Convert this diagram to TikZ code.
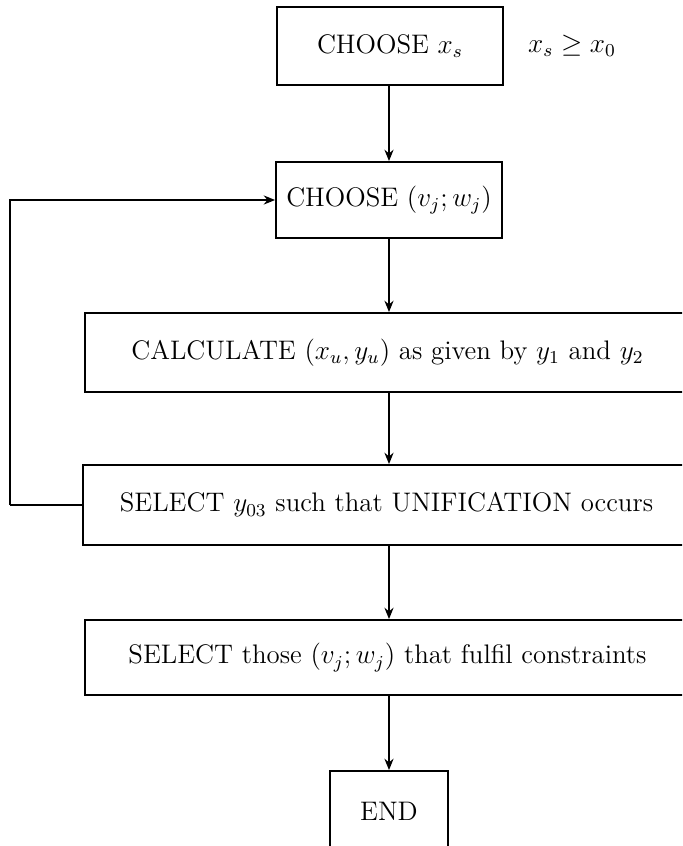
\documentclass[tikz,border=0pt]{standalone}
\usetikzlibrary{arrows.meta}
\begin{document}
\begin{tikzpicture}[x=0.44pt,y=-0.44pt,
  every node/.style={font=\fontsize{11.8}{14}\selectfont},
  flowbox/.style={draw,line width=0.8pt,rectangle,inner sep=0pt,anchor=center},
  flowarrow/.style={line width=0.8pt,-{Stealth[length=5pt,width=4pt]}},
  flowline/.style={line width=0.8pt}]
\useasboundingbox (0,0) rectangle (682,846);
\clip (0,0) rectangle (682,846);
\node[flowbox,minimum width=226*0.44pt,minimum height=78*0.44pt] (b1) at (390,46) {CHOOSE $x_s$};
\node (cond) at (572,46) {$x_s \geq x_0$};
\node[flowbox,minimum width=226*0.44pt,minimum height=76*0.44pt] (b2) at (389,200) {CHOOSE $(v_j;w_j)$};
\node[flowbox,minimum width=605*0.44pt,minimum height=79*0.44pt] (b3) at (387.5,352.5) {CALCULATE $(x_u,y_u)$ as given by $y_1$ and $y_2$};
\node[flowbox,minimum width=607*0.44pt,minimum height=80*0.44pt] (b4) at (386.5,505) {SELECT $y_{03}$ such that UNIFICATION occurs};
\node[flowbox,minimum width=605*0.44pt,minimum height=75*0.44pt] (b5) at (387.5,657.5) {SELECT those $(v_j;w_j)$ that fulfil constraints};
\node[flowbox,minimum width=118*0.44pt,minimum height=80*0.44pt] (end) at (389,811) {END};
\coordinate (fb) at (10,505);
\draw[flowarrow] (b1.south -| b2.north) -- (b2.north);
\draw[flowarrow] (b2.south) -- (b2.south |- b3.north);
\draw[flowarrow] (b2.south |- b3.south) -- (b2.south |- b4.north);
\draw[flowarrow] (b2.south |- b4.south) -- (b2.south |- b5.north);
\draw[flowarrow] (b2.south |- b5.south) -- (end.north);
\draw[flowline] (b4.west) -- (fb);
\draw[flowarrow] (fb) |- (b2.west);
\end{tikzpicture}
\end{document}
